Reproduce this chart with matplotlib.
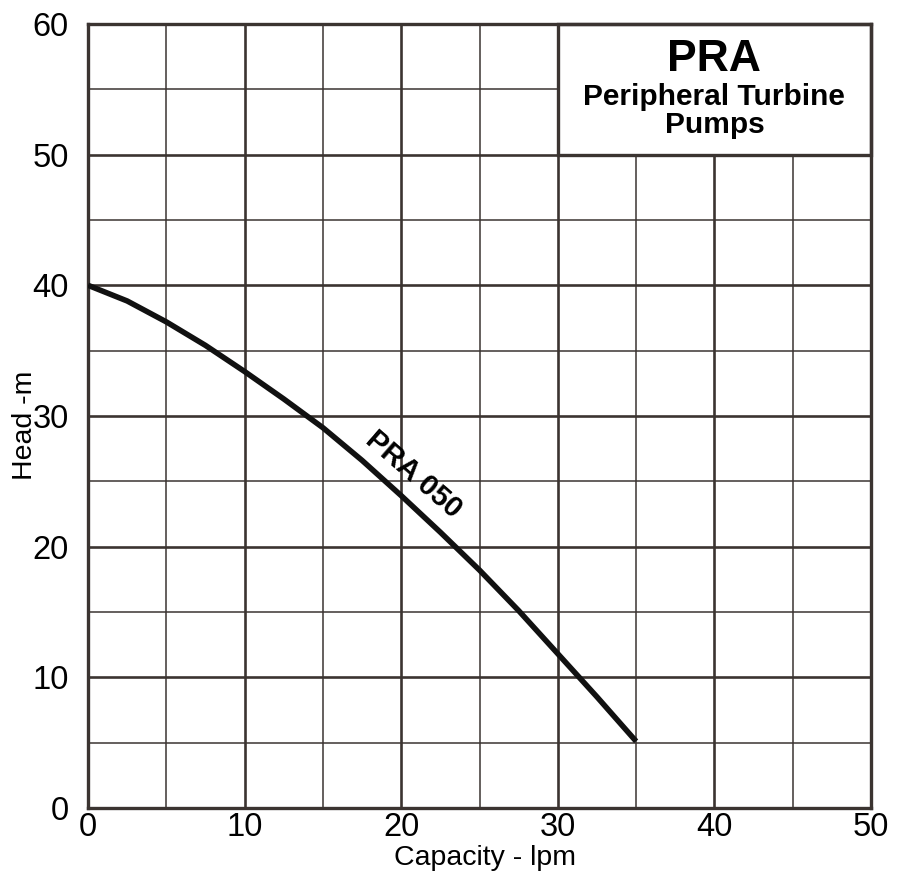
import matplotlib.pyplot as plt
from matplotlib.patches import Rectangle

# capacity (lpm) vs head (m)
capacity = [0, 2.5, 5, 7.5, 10, 12.5, 15, 17.5, 20, 22.5, 25, 27.5, 30, 32.5, 35]
head = [40, 38.8, 37.2, 35.4, 33.4, 31.3, 29.1, 26.6, 23.9, 21.1, 18.2, 15.1, 11.8, 8.5, 5.1]

x_ticks = [0, 10, 20, 30, 40, 50]
y_ticks = [0, 10, 20, 30, 40, 50, 60]
x_minor = [5, 15, 25, 35, 45]
y_minor = [5, 15, 25, 35, 45, 55]

grid_color = "#3b3431"

plt.rcParams["font.family"] = ["Liberation Sans", "DejaVu Sans"]

fig = plt.figure(figsize=(8.99, 8.77), dpi=100)
ax = fig.add_axes([0.0979, 0.0787, 0.871, 0.894])

ax.set_xlim(0, 50)
ax.set_ylim(0, 60)
ax.set_xticks(x_ticks)
ax.set_yticks(y_ticks)
ax.set_xticks(x_minor, minor=True)
ax.set_yticks(y_minor, minor=True)
ax.tick_params(which="both", length=0, labelsize=23.5)
ax.tick_params(axis="x", pad=3)
ax.tick_params(axis="y", pad=14)

ax.grid(which="major", color=grid_color, linewidth=1.9)
ax.grid(which="minor", color=grid_color, linewidth=1.1)
ax.set_axisbelow(True)
for s in ax.spines.values():
    s.set_color(grid_color)
    s.set_linewidth(2.4)

ax.plot(capacity, head, color="#111111", linewidth=4, solid_capstyle="butt",
        solid_joinstyle="round", zorder=3)
ax.text(20.8, 25.5, "PRA 050", rotation=-41, ha="center", va="center",
        fontsize=21, fontweight="bold", zorder=4)

# title box in the upper right
ax.add_patch(Rectangle((30, 50), 20, 10, facecolor="white", edgecolor=grid_color,
                       linewidth=2.4, zorder=2, clip_on=False))
ax.text(40, 57.3, "PRA", ha="center", va="center", fontsize=32, fontweight="bold", zorder=4)
ax.text(40, 54.4, "Peripheral Turbine", ha="center", va="center", fontsize=21.5,
        fontweight="bold", zorder=4)
ax.text(40, 52.3, "Pumps", ha="center", va="center", fontsize=21.5,
        fontweight="bold", zorder=4)

fig.text(25 / 899, 1 - 425 / 877, "Head -m", rotation=90, ha="center", va="center", fontsize=20.5)
fig.text(485 / 899, 1 - 858 / 877, "Capacity - lpm", ha="center", va="center", fontsize=20.5)

fig.savefig("out.png", dpi=100)
